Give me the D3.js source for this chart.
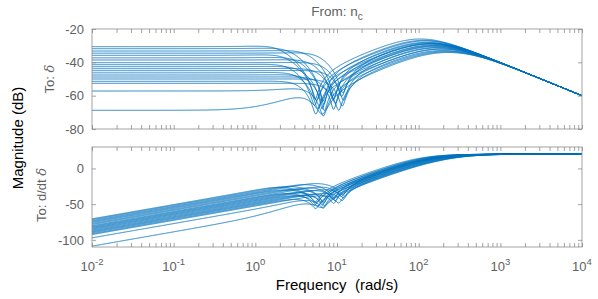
<!DOCTYPE html>
<html><head><meta charset="utf-8">
<script src="https://cdn.jsdelivr.net/npm/d3@7"></script>
<style>
html,body{margin:0;padding:0;background:#fff;}
svg{display:block;font-family:"Liberation Sans",Arial,Helvetica,sans-serif;}
</style></head>
<body><svg id="c" width="598" height="299"></svg>
<script>
// ---- data (one entry per model in the array) ----
const gainDb    = [-30.6,-31.8,-33.2,-34.5,-35.8,-37.3,-38.6,-40.2,-41.4,-42.6,-43.8,-45.0,-46.3,-47.6,-48.8,-50.0,-51.4,-52.6,-57.2,-68.8];
const notchFreq = [5.4, 6.7, 9.3, 11.8, 5.6, 6.9, 9.0, 11.4, 5.3, 6.6, 9.5, 12.0, 5.8, 7.0, 9.1, 11.6, 5.5, 10.5, 6.8, 6.6];
const notchDamp = [0.06,0.05,0.06,0.07,0.07,0.05,0.06,0.07,0.07,0.05,0.06,0.07,0.07,0.06,0.06,0.07,0.07,0.07,0.07,0.13];
const zeroFreq  = [4.5, 5.5, 7.5, 9.5, 4.5, 5.5, 7.5, 9.5, 4.5, 5.5, 7.5, 9.5, 4.5, 5.5, 7.5, 9.5, 4.5, 8.5, 5.5, 5.5];
const rollFreq  = [105,115,125,135,120,130,140,150,140,150,160,170,160,175,190,200,190,220,210,230];
const rollDamp  = [0.95,0.95,1.0,1.0,0.95,1.0,1.0,1.05,1.0,1.0,1.05,1.05,1.0,1.05,1.05,1.1,1.05,1.1,1.1,1.1];
const poleDamp  = [0.6,0.6,0.6,0.6,0.6,0.6,0.6,0.6,0.6,0.6,0.6,0.6,0.6,0.6,0.6,0.6,0.6,0.6,0.6,0.6];
const leadZero  = [1,1,1,1,1,1,1,1,1,1,1,1,1,1,1,1,1,1,3.0,1.2];
const leadPole  = [1,1,1,1,1,1,1,1,1,1,1,1,1,1,1,1,1,1,5.0,8.0];
const hfGainDb  = 20;          // common high-frequency asymptote: 20 dB at 1 rad/s, -20 dB/dec
const topTicks  = [-80,-60,-40,-20];
const botTicks  = [-100,-50,0];
const decades   = [-2,-1,0,1,2,3,4];

// ---- frequency response of each model ----
const wGrid = d3.range(-2, 4.00001, 0.004).map(e => Math.pow(10, e));
const cabs = (re, im) => Math.hypot(re, im);
const models = gainDb.map((g, i) => {
  const G0 = Math.pow(10, g/20), wz = notchFreq[i], w1 = zeroFreq[i], wb = rollFreq[i];
  const wn = leadZero[i], wd = leadPole[i], K = Math.pow(10, hfGainDb/20);
  const wc = Math.sqrt(K * wz*wz * w1 * wn / (G0 * wb*wb * wd));
  return wGrid.map(w => {
    const zn = cabs(1 - (w/wz)**2, 2*notchDamp[i]*w/wz);
    const z1 = cabs(1, w/w1);
    const pc = cabs(1 - (w/wc)**2, 2*poleDamp[i]*w/wc);
    const pb = cabs(1 - (w/wb)**2, 2*rollDamp[i]*w/wb);
    const ld = cabs(1, w/wn) / cabs(1, w/wd);
    const m = G0 * zn * z1 * ld / (pc * pb);
    const top = 20*Math.log10(m);
    return {w, top, bot: top + 20*Math.log10(w)};
  });
});

// ---- layout ----
const svg = d3.select("#c");
const L = 92, R = 582;
const x = d3.scaleLog().domain([1e-2, 1e4]).range([L, R]);
const yTop = d3.scaleLinear().domain([-80, -20]).range([129, 29]);
const yBot = d3.scaleLinear().domain([-110, 30]).range([247, 147]);
const boxCol = "#8c8c8c", txtCol = "#616161", lineCol = "#0072BD";

const minor = [];
decades.forEach(d => { for (let k = 1; k < 10; k++) { const v = k*Math.pow(10, d); if (v <= 1e4*1.0001) minor.push(v); } });

function panel(y, ticks, key, id, showX) {
  const [y0, y1] = [y.range()[1], y.range()[0]];
  svg.append("clipPath").attr("id", id).append("rect")
    .attr("x", L).attr("y", y0).attr("width", R-L).attr("height", y1-y0);
  const g = svg.append("g");
  g.append("g").attr("clip-path", `url(#${id})`).selectAll("path").data(models).join("path")
    .attr("fill", "none").attr("stroke", lineCol).attr("stroke-width", 0.9)
    .attr("d", d3.line().x(d => x(d.w)).y(d => y(d[key])));
  g.append("g").attr("transform", `translate(0,${y1})`)
    .call(d3.axisBottom(x).tickValues(minor).tickSize(-4).tickSizeOuter(0).tickFormat(""));
  g.append("g").attr("transform", `translate(0,${y0})`)
    .call(d3.axisTop(x).tickValues(minor).tickSize(-4).tickSizeOuter(0).tickFormat(""));
  g.append("g").attr("transform", `translate(${L},0)`)
    .call(d3.axisLeft(y).tickValues(ticks).tickSize(-4).tickSizeOuter(0).tickPadding(8).tickFormat(d => String(d)));
  g.append("g").attr("transform", `translate(${R},0)`)
    .call(d3.axisRight(y).tickValues(ticks).tickSize(-4).tickSizeOuter(0).tickFormat(""));
  g.selectAll(".domain").remove();
  g.selectAll(".tick line").attr("stroke", boxCol).attr("stroke-width", 0.8);
  g.selectAll(".tick text").attr("fill", txtCol).attr("font-size", 13).attr("font-family", null);
  g.append("rect").attr("x", L).attr("y", y0).attr("width", R-L).attr("height", y1-y0)
    .attr("fill", "none").attr("stroke", boxCol).attr("stroke-width", 0.8);
  if (showX) {
    const lab = g.append("g").attr("fill", txtCol).attr("font-size", 13);
    decades.forEach(d => {
      const t = lab.append("text").attr("x", x(Math.pow(10, d))).attr("y", y1 + 24).attr("text-anchor", "middle");
      t.append("tspan").text("10");
      t.append("tspan").attr("dy", -6).attr("font-size", 9.5).text(String(d));
    });
  }
}
panel(yTop, topTicks, "top", "cpTop", false);
panel(yBot, botTicks, "bot", "cpBot", true);

// titles
const ft = svg.append("text").attr("x", 337).attr("y", 16).attr("text-anchor", "middle")
  .attr("fill", txtCol).attr("font-size", 13.5);
ft.append("tspan").text("From: n");
ft.append("tspan").attr("dy", 4).attr("font-size", 10).text("c");

const t1 = svg.append("text").attr("transform", `translate(54,79) rotate(-90)`).attr("text-anchor", "middle")
  .attr("fill", txtCol).attr("font-size", 13);
t1.append("tspan").text("To: ");
t1.append("tspan").attr("font-style", "italic").attr("font-family", "DejaVu Serif, serif").text("δ");

const t2 = svg.append("text").attr("transform", `translate(46,195) rotate(-90)`).attr("text-anchor", "middle")
  .attr("fill", txtCol).attr("font-size", 13);
t2.append("tspan").text("To: d/dt ");
t2.append("tspan").attr("font-style", "italic").attr("font-family", "DejaVu Serif, serif").text("δ");

svg.append("text").attr("transform", `translate(23,138) rotate(-90)`).attr("text-anchor", "middle")
  .attr("fill", "#000").attr("font-size", 15).text("Magnitude (dB)");
svg.append("text").attr("x", 337).attr("y", 290).attr("text-anchor", "middle")
  .attr("fill", "#000").attr("font-size", 15).style("white-space", "pre")
  .text("Frequency  (rad/s)");
</script></body></html>
